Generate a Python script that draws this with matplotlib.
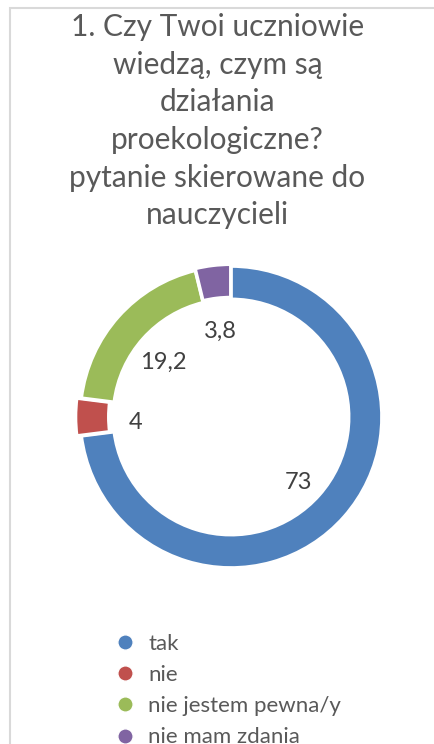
import matplotlib.pyplot as plt
from matplotlib.lines import Line2D
from matplotlib.patches import Rectangle
from matplotlib.transforms import offset_copy

categories = ["tak", "nie", "nie jestem pewna/y", "nie mam zdania"]
values = [73, 4, 19.2, 3.8]
value_labels = ["73", "4", "19,2", "3,8"]
colors = ["#4F81BD", "#C0504D", "#9BBB59", "#8064A2"]
explode = [0, 0.03, 0, 0.012]

title = ("1. Czy Twoi uczniowie\nwiedzą, czym są\ndziałania\nproekologiczne?\n"
         "pytanie skierowane do\nnauczycieli")

plt.rcParams["font.family"] = ["Lato", "DejaVu Sans"]

W, H = 435, 744
fig = plt.figure(figsize=(W / 100, H / 100), dpi=100)

# chart frame (only top and left edges show, the rest is cropped)
fig.patches.append(Rectangle((10 / W, -0.1), 1.2, 1.1 - 8 / H,
                             transform=fig.transFigure, fill=False,
                             edgecolor="#D9D9D9", lw=1.5, clip_on=False))

fig.text(0.5, 1 - 13 / H, title, ha="center", va="top", fontsize=21.5,
         color="#595959", linespacing=1.42)

size = 332
ax = fig.add_axes([(231 - size / 2) / W, (H - 417 - size / 2) / H, size / W, size / H])
wedges, _, autotexts = ax.pie(
    values, colors=colors, startangle=90, counterclock=False, explode=explode,
    radius=1.0, autopct="%s", pctdistance=0.6,
    wedgeprops=dict(width=0.22, edgecolor="white", linewidth=2.5),
    textprops=dict(fontsize=17, color="#404040"),
)
for t, lab in zip(autotexts, value_labels):
    t.set_text(lab)
    # excel sits the data labels a little lower than the slice midpoint
    t.set_transform(offset_copy(t.get_transform(), fig=fig, y=-6, units="dots"))
ax.set_xlim(-1.1, 1.1)
ax.set_ylim(-1.1, 1.1)
ax.set_aspect("equal")
ax.axis("off")

handles = [Line2D([], [], ls="none", marker="o", markersize=11, color=c,
                  markeredgecolor="white") for c in colors]
fig.legend(handles, categories, loc="upper left", bbox_to_anchor=(114 / W, 1 - 634 / H),
           frameon=False, fontsize=16, labelcolor="#595959", handletextpad=0.55,
           labelspacing=0.5, handlelength=1.0, borderaxespad=0, borderpad=0)

fig.savefig("out.png", dpi=100, facecolor="white")
